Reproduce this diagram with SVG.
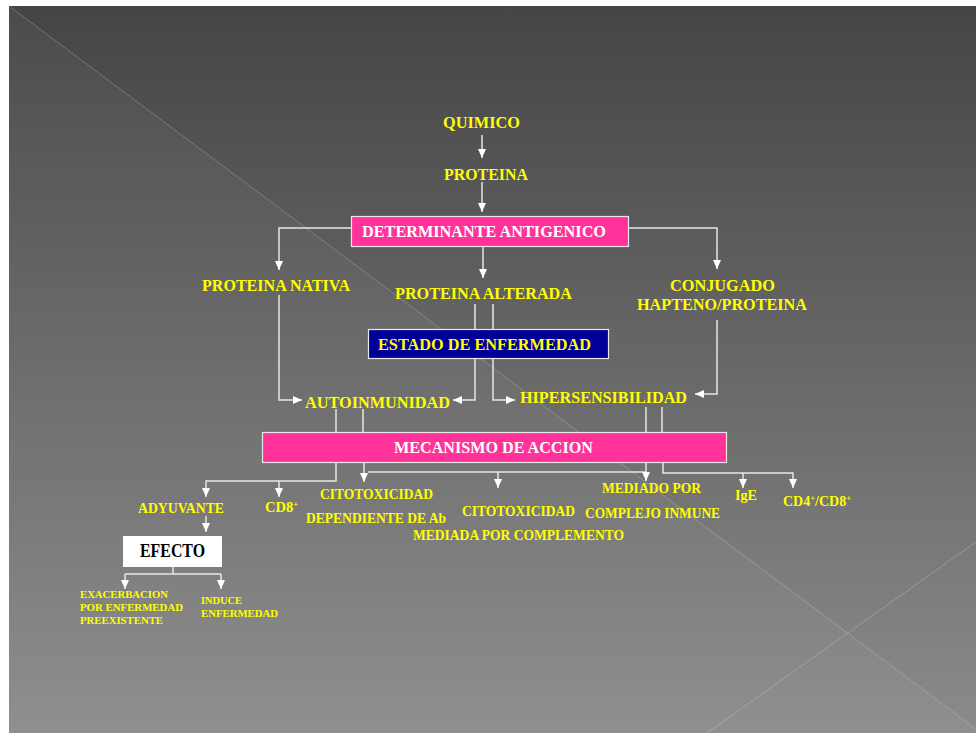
<svg xmlns="http://www.w3.org/2000/svg" width="976" height="733" viewBox="0 0 976 733">
<defs>
<linearGradient id="bg" x1="0" y1="0" x2="0" y2="1">
<stop offset="0" stop-color="#454545"/>
<stop offset="1" stop-color="#8b8b8b"/>
</linearGradient>
<marker id="ah" viewBox="0 0 9 8" refX="9" refY="4" markerWidth="9" markerHeight="8" markerUnits="userSpaceOnUse" orient="auto">
<path d="M0,0 L9,4 L0,8 z" fill="#ffffff"/>
</marker>
<style>
.t{font-family:"Liberation Serif","Times New Roman",serif;font-weight:bold;fill:#ffff00}
.w{fill:#ffffff}
.k{fill:#000000}
.c{fill:none;stroke:#e6e6e6;stroke-width:1.5}
.a{marker-end:url(#ah)}
.pink{fill:#ff3399;stroke:#e8e8e8;stroke-width:1.2}
.navy{fill:#000099;stroke:#e8e8e8;stroke-width:1.2}
</style>
</defs>
<rect x="0" y="0" width="976" height="733" fill="#ffffff"/>
<rect x="9" y="6" width="967" height="727" fill="url(#bg)"/>
<polygon points="9,6 976,729 976,733 9,733" fill="#ffffff" fill-opacity="0.035"/>
<line x1="9" y1="6" x2="976" y2="729" stroke="#ffffff" stroke-opacity="0.22" stroke-width="1"/>
<line x1="976" y1="542" x2="707" y2="733" stroke="#ffffff" stroke-opacity="0.22" stroke-width="1"/>

<g id="connectors">
<path class="c a" d="M482,135 V158"/>
<path class="c a" d="M482,182 V212"/>
<path class="c a" d="M351,228 H279 V270"/>
<path class="c a" d="M629,228 H717 V269"/>
<path class="c a" d="M483,247 V278"/>
<path class="c" d="M475,304 V329 M493,304 V329"/>
<path class="c a" d="M475,359 V400 H453"/>
<path class="c a" d="M493,359 V400 H515"/>
<path class="c a" d="M279,295 V400 H302"/>
<path class="c a" d="M717,320 V394 H695"/>
<path class="c" d="M336,409 V432 M363,409 V432 M646,407 V432 M662,407 V432"/>
<path class="c a" d="M336,463 V481 H206 V497"/>
<path class="c a" d="M279,481 V497"/>
<path class="c a" d="M364,463 V482"/>
<path class="c" d="M368,472 H646"/>
<path class="c a" d="M498,472 V488"/>
<path class="c a" d="M646,463 V481"/>
<path class="c a" d="M663,463 V473 H793 V488"/>
<path class="c a" d="M743,473 V488"/>
<path class="c a" d="M206,516 V532"/>
<path class="c" d="M173,567 V574 M125,574 H221"/>
<path class="c a" d="M125,574 V589"/>
<path class="c a" d="M221,574 V589"/>
</g>

<g id="quimico"><text class="t" x="443" y="128" font-size="17" textLength="77" lengthAdjust="spacingAndGlyphs">QUIMICO</text></g>
<g id="proteina"><text class="t" x="444" y="180" font-size="17.5" textLength="84" lengthAdjust="spacingAndGlyphs">PROTEINA</text></g>
<g id="determinante">
<rect class="pink" x="351.5" y="216.5" width="277" height="30"/>
<text class="t w" x="362" y="237" font-size="16.5" textLength="244" lengthAdjust="spacingAndGlyphs">DETERMINANTE ANTIGENICO</text>
</g>
<g id="proteina-nativa"><text class="t" x="202" y="291" font-size="17.5" textLength="148" lengthAdjust="spacingAndGlyphs">PROTEINA NATIVA</text></g>
<g id="proteina-alterada"><text class="t" x="395" y="299" font-size="17" textLength="177" lengthAdjust="spacingAndGlyphs">PROTEINA ALTERADA</text></g>
<g id="conjugado">
<text class="t" x="670" y="291" font-size="17" textLength="105" lengthAdjust="spacingAndGlyphs">CONJUGADO</text>
<text class="t" x="637" y="310" font-size="17" textLength="170" lengthAdjust="spacingAndGlyphs">HAPTENO/PROTEINA</text>
</g>
<g id="estado">
<rect class="navy" x="368.5" y="329.5" width="240" height="29"/>
<text class="t" x="378" y="350" font-size="17.5" textLength="213" lengthAdjust="spacingAndGlyphs">ESTADO DE ENFERMEDAD</text>
</g>
<g id="autoinmunidad"><text class="t" x="305" y="408" font-size="17" textLength="145" lengthAdjust="spacingAndGlyphs">AUTOINMUNIDAD</text></g>
<g id="hipersensibilidad"><text class="t" x="520" y="403" font-size="17" textLength="167" lengthAdjust="spacingAndGlyphs">HIPERSENSIBILIDAD</text></g>
<g id="mecanismo">
<rect class="pink" x="262.5" y="432.5" width="464" height="30"/>
<text class="t w" x="394" y="453" font-size="16.5" textLength="199" lengthAdjust="spacingAndGlyphs">MECANISMO DE ACCION</text>
</g>
<g id="adyuvante"><text class="t" x="138" y="513" font-size="14.5" textLength="86" lengthAdjust="spacingAndGlyphs">ADYUVANTE</text></g>
<g id="cd8"><text class="t" x="265" y="512" font-size="14.5">CD8<tspan font-size="9" dy="-5">+</tspan></text></g>
<g id="citotox-ab">
<text class="t" x="320" y="499" font-size="14" textLength="113" lengthAdjust="spacingAndGlyphs">CITOTOXICIDAD</text>
<text class="t" x="306" y="523" font-size="14" textLength="140" lengthAdjust="spacingAndGlyphs">DEPENDIENTE DE Ab</text>
</g>
<g id="citotox-comp">
<text class="t" x="462" y="516" font-size="14" textLength="113" lengthAdjust="spacingAndGlyphs">CITOTOXICIDAD</text>
<text class="t" x="413" y="540" font-size="14" textLength="211" lengthAdjust="spacingAndGlyphs">MEDIADA POR COMPLEMENTO</text>
</g>
<g id="complejo">
<text class="t" x="602" y="493" font-size="14" textLength="99" lengthAdjust="spacingAndGlyphs">MEDIADO POR</text>
<text class="t" x="585" y="518" font-size="14" textLength="135" lengthAdjust="spacingAndGlyphs">COMPLEJO INMUNE</text>
</g>
<g id="ige"><text class="t" x="735" y="500" font-size="14.5" textLength="22" lengthAdjust="spacingAndGlyphs">IgE</text></g>
<g id="cd4cd8"><text class="t" x="783" y="506" font-size="14">CD4<tspan font-size="8.5" dy="-5">+</tspan><tspan dy="5">/CD8</tspan><tspan font-size="8.5" dy="-5">+</tspan></text></g>
<g id="efecto">
<rect x="123" y="536" width="99" height="31" fill="#ffffff"/>
<text class="t k" x="140" y="557" font-size="18" textLength="65" lengthAdjust="spacingAndGlyphs">EFECTO</text>
</g>
<g id="exacerbacion">
<text class="t" x="80" y="598" font-size="11" textLength="88" lengthAdjust="spacingAndGlyphs">EXACERBACION</text>
<text class="t" x="80" y="611" font-size="11" textLength="103" lengthAdjust="spacingAndGlyphs">POR ENFERMEDAD</text>
<text class="t" x="80" y="624" font-size="11" textLength="83" lengthAdjust="spacingAndGlyphs">PREEXISTENTE</text>
</g>
<g id="induce">
<text class="t" x="201" y="604" font-size="11" textLength="41" lengthAdjust="spacingAndGlyphs">INDUCE</text>
<text class="t" x="201" y="617" font-size="11" textLength="77" lengthAdjust="spacingAndGlyphs">ENFERMEDAD</text>
</g>
</svg>
